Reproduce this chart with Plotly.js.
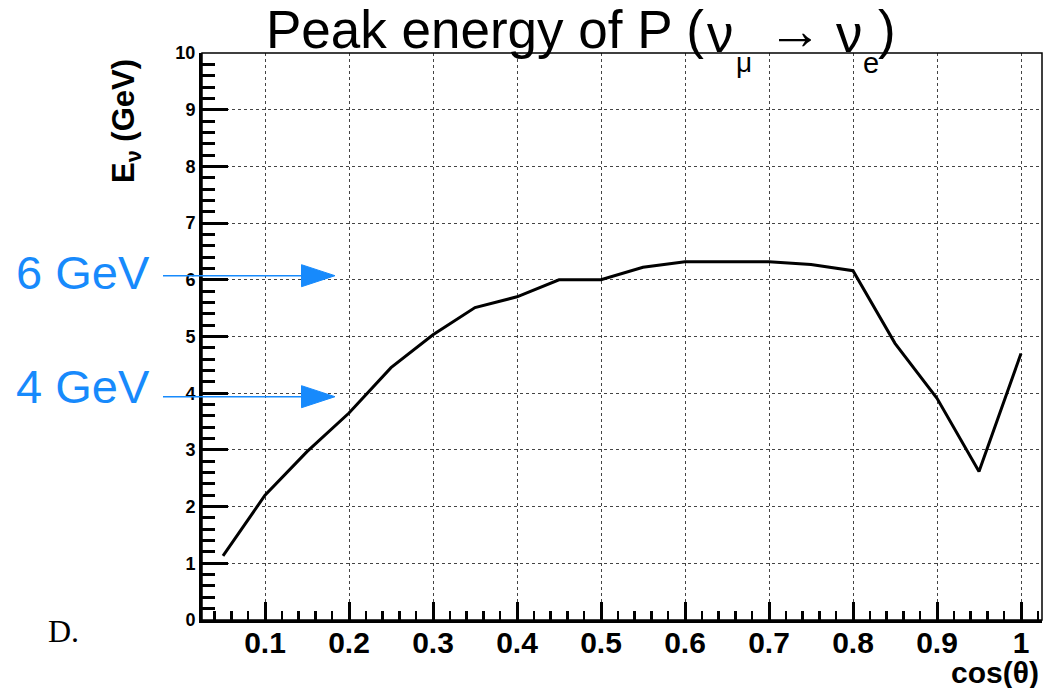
<!DOCTYPE html>
<html>
<head>
<meta charset="utf-8">
<script src="https://cdn.plot.ly/plotly-3.0.1.min.js"></script>
<style>html,body{margin:0;padding:0;background:#fff;}#chart{width:1049px;height:688px;}</style>
</head>
<body>
<div id="chart"></div>
<script>
// ---- data ----
const cosTheta = [0.05, 0.10, 0.15, 0.20, 0.25, 0.30, 0.35, 0.40, 0.45, 0.50,
                  0.55, 0.60, 0.65, 0.70, 0.75, 0.80, 0.85, 0.90, 0.95, 1.00];
const peakEnergy = [1.13, 2.20, 2.97, 3.65, 4.45, 5.03, 5.51, 5.70, 6.00, 6.00,
                    6.22, 6.32, 6.32, 6.32, 6.27, 6.16, 4.88, 3.91, 2.62, 4.70];
const markerLabels = ["6 GeV", "4 GeV"];
const markerValues = [6, 4];

// ---- layout geometry (pixels) ----
const W = 1049, H = 688;
const L = 202, R = 7, T = 53, B = 68;
const PW = W - L - R, PH = H - T - B;
const px = x => (x - L) / PW;
const py = y => (H - B - y) / PH;

const blue = '#178afc';
const sans = 'Liberation Sans, Arial, sans-serif';

const trace = {
  x: cosTheta, y: peakEnergy, type: 'scatter', mode: 'lines',
  line: {color: '#000', width: 3}, hoverinfo: 'skip', showlegend: false
};

const annotations = [];
function ann(text, x, y, size, opts) {
  annotations.push(Object.assign({
    text: text, xref: 'paper', yref: 'paper', x: px(x), y: py(y),
    xanchor: 'left', yanchor: 'middle', showarrow: false,
    font: {family: sans, size: size, color: '#000'}
  }, opts || {}));
}
// title pieces
ann('Peak energy of P (', 264, 29, 53);
ann('ν', 720.5, 34, 53, {xanchor: 'center'});
ann('μ', 743.5, 62, 28, {xanchor: 'center'});
ann('→', 795, 30, 54, {xanchor: 'center'});
ann('ν', 849.5, 34, 53, {xanchor: 'center'});
ann('e', 871, 63, 29, {xanchor: 'center'});
ann(')', 886.5, 30, 53, {xanchor: 'center'});
// axis titles
ann('<b>E<sub>ν</sub> (GeV)</b>', 126, 121, 31, {xanchor: 'center', textangle: -90});
ann('<b>cos(θ)</b>', 1041, 672, 30, {xanchor: 'right'});
// author note
ann('D.', 46, 631, 32, {font: {family: 'Liberation Serif, Times New Roman, serif', size: 32, color: '#000'}});

const shapes = [
  {type: 'rect', xref: 'paper', yref: 'paper', x0: 0, x1: 1, y0: 0, y1: 1,
   line: {color: '#000', width: 1.5}, layer: 'above'}
];
const arrowY = [275.7, 396.7];
const textY = [272, 386];
markerLabels.forEach((lab, i) => {
  ann(lab, 14, textY[i], 47, {font: {family: sans, size: 47, color: blue}});
  const yy = arrowY[i];
  shapes.push({type: 'line', xref: 'paper', yref: 'paper',
    x0: px(163), x1: px(305), y0: py(yy), y1: py(yy),
    line: {color: blue, width: 1.5}, layer: 'above'});
  shapes.push({type: 'path', xref: 'paper', yref: 'paper',
    path: `M ${px(301.5)} ${py(yy - 11)} L ${px(335)} ${py(yy)} L ${px(301.5)} ${py(yy + 11)} Z`,
    fillcolor: blue, line: {color: blue, width: 1}, layer: 'above'});
});

const layout = {
  width: W, height: H,
  margin: {l: L, r: R, t: T, b: B, pad: 0},
  paper_bgcolor: '#fff', plot_bgcolor: '#fff',
  showlegend: false,
  xaxis: {
    range: [0.025, 1.025], tick0: 0, dtick: 0.1,
    ticks: 'inside', ticklen: 18, tickwidth: 3, tickcolor: '#000',
    showline: true, linewidth: 3, linecolor: '#000', mirror: false,
    showgrid: true, gridcolor: '#444', gridwidth: 1, griddash: 'dot',
    zeroline: false,
    minor: {tick0: 0, dtick: 0.02, ticks: 'inside', ticklen: 9, tickwidth: 2.5, tickcolor: '#000', showgrid: false},
    tickfont: {family: sans, size: 30, color: '#000', weight: 'bold'},
    ticklabelstandoff: -6
  },
  yaxis: {
    range: [0, 10], tick0: 0, dtick: 1,
    ticks: 'inside', ticklen: 26, tickwidth: 3, tickcolor: '#000',
    showline: true, linewidth: 3, linecolor: '#000', mirror: false,
    showgrid: true, gridcolor: '#444', gridwidth: 1, griddash: 'dot',
    zeroline: false,
    minor: {tick0: 0, dtick: 0.2, ticks: 'inside', ticklen: 13, tickwidth: 3, tickcolor: '#000', showgrid: false},
    tickfont: {family: sans, size: 18, color: '#000', weight: 'bold'}
  },
  annotations: annotations,
  shapes: shapes
};

Plotly.newPlot('chart', [trace], layout, {displayModeBar: false, staticPlot: true});
</script>
</body>
</html>
